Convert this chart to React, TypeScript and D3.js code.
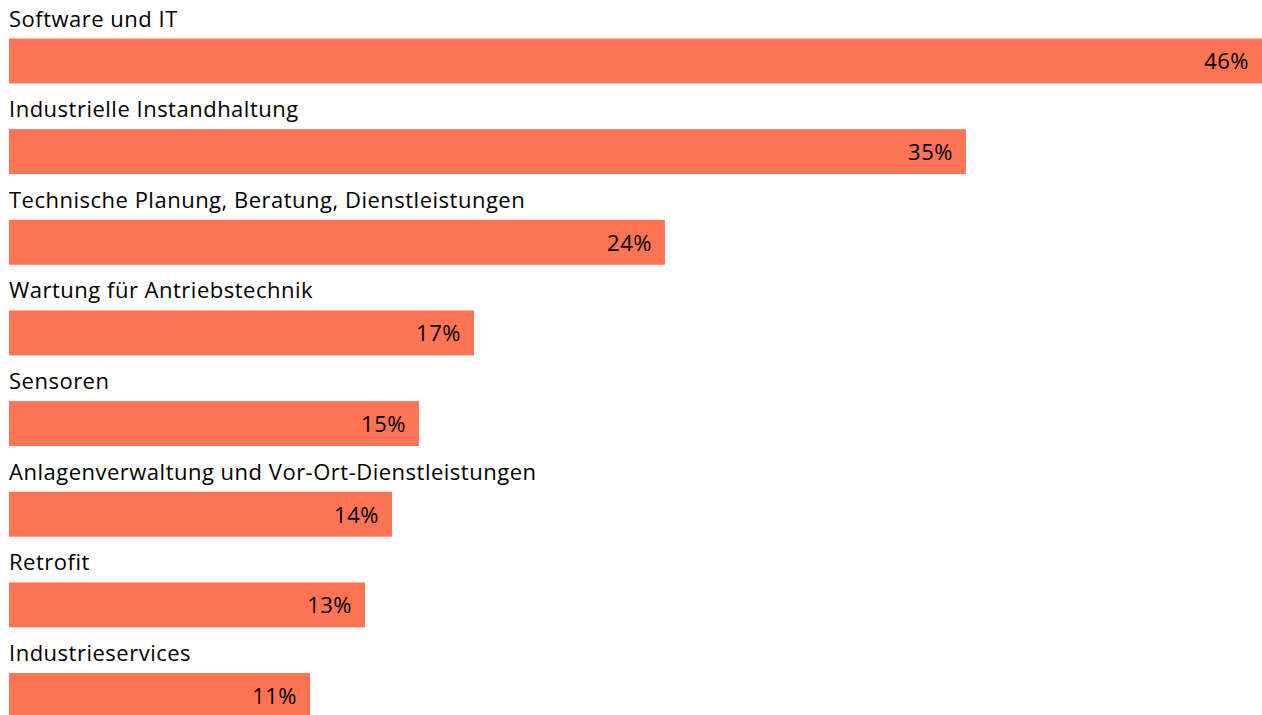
import React from "react";
import * as d3 from "d3";

const categories = [
  "Software und IT",
  "Industrielle Instandhaltung",
  "Technische Planung, Beratung, Dienstleistungen",
  "Wartung für Antriebstechnik",
  "Sensoren",
  "Anlagenverwaltung und Vor-Ort-Dienstleistungen",
  "Retrofit",
  "Industrieservices",
];
// estimated underlying shares (labels show rounded values)
const values = [46.0, 35.13, 24.08, 17.07, 15.05, 14.06, 13.07, 11.05];

const W = 1262;
const H = 715;

export default function App() {
  const x = d3.scaleLinear().domain([0, 46]).range([9, 1262]);
  const y = d3
    .scaleBand<string>()
    .domain(categories)
    .range([38.5, 718])
    .paddingInner(0.504)
    .paddingOuter(0);
  const font = "Open Sans, sans-serif";
  const fmt = (v: number) => `${Math.round(v)}%`;
  return (
    <svg
      width={W}
      height={H}
      style={{ position: "absolute", left: 0, top: 0, background: "#fff" }}
    >
      {categories.map((c, i) => {
        const y0 = y(c)!;
        const bw = y.bandwidth();
        return (
          <g key={c}>
            <text
              x={9}
              y={y0 - 12}
              fontFamily={font}
              fontSize={22}
              letterSpacing={0.5}
              fill="#000"
            >
              {c}
            </text>
            <rect x={x(0)} y={y0} width={x(values[i]) - x(0)} height={bw} fill="#FF7452" />
            <text
              x={x(values[i]) - 13}
              y={y0 + bw / 2 + 8.5}
              textAnchor="end"
              fontFamily={font}
              fontSize={22}
              letterSpacing={0.5}
              fill="#000"
            >
              {fmt(values[i])}
            </text>
          </g>
        );
      })}
    </svg>
  );
}
